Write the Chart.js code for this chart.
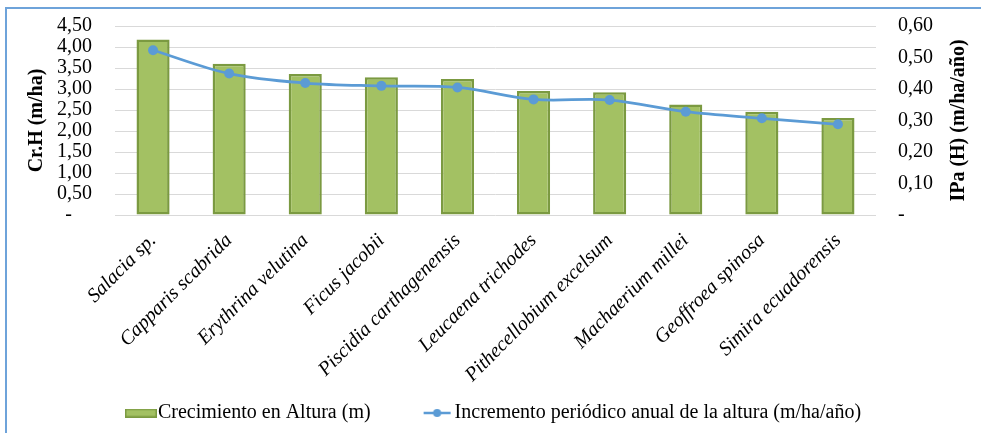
<!DOCTYPE html>
<html>
<head>
<meta charset="utf-8">
<script src="https://cdn.jsdelivr.net/npm/chart.js@4.4.1/dist/chart.umd.min.js"></script>
<style>
  html, body { margin: 0; padding: 0; background: #ffffff; overflow: hidden; }
  #wrap { position: relative; width: 981px; height: 433px; overflow: hidden; }
  #frame { position: absolute; left: 5px; top: 7px; width: 1200px; height: 800px;
           border: 2px solid #6ea3da; pointer-events: none; box-sizing: border-box; }
</style>
</head>
<body>
<div id="wrap">
  <canvas id="chart" width="981" height="433"></canvas>
  <div id="frame"></div>
</div>
<script>
// Species (x categories)
const species = [
  'Salacia sp.', 'Capparis scabrida', 'Erythrina velutina', 'Ficus jacobii',
  'Piscidia carthagenensis', 'Leucaena trichodes', 'Pithecellobium excelsum',
  'Machaerium millei', 'Geoffroea spinosa', 'Simira ecuadorensis'
];
// Height growth (m), left axis
const heightGrowth = [4.18, 3.60, 3.36, 3.28, 3.24, 2.95, 2.92, 2.63, 2.46, 2.31];
// Periodic annual increment of height (m/ha/año), right axis
const annualIncrement = [0.523, 0.449, 0.419, 0.410, 0.405, 0.367, 0.365, 0.328, 0.307, 0.288];

const seriesNames = ['Crecimiento en Altura (m)', 'Incremento periódico anual de la altura (m/ha/año)'];
const leftTitle = 'Cr.H (m/ha)';
const rightTitle = 'IPa (H) (m/ha/año)';
const leftMax = 4.5, leftStep = 0.5;
const rightMax = 0.6, rightStep = 0.1;

const FONT = 'Liberation Serif';
const BAR_FILL = '#a3c163';
const BAR_EDGE = '#7b9a41';
const LINE_BLUE = '#5b9bd5';

function fmt(v) {
  return v.toFixed(2).replace('.', ',');
}

// Legend swatches
function barSwatch() {
  const c = document.createElement('canvas');
  c.width = 32; c.height = 9;
  const g = c.getContext('2d');
  g.fillStyle = BAR_FILL;
  g.fillRect(0, 0, 32, 9);
  g.strokeStyle = BAR_EDGE;
  g.lineWidth = 1.5;
  g.strokeRect(0.75, 0.75, 30.5, 7.5);
  return c;
}
function lineSwatch() {
  const c = document.createElement('canvas');
  c.width = 32; c.height = 10;
  const g = c.getContext('2d');
  g.strokeStyle = LINE_BLUE;
  g.lineWidth = 2.5;
  g.beginPath(); g.moveTo(2, 5); g.lineTo(29, 5); g.stroke();
  g.fillStyle = LINE_BLUE;
  g.beginPath(); g.arc(15.5, 5, 4, 0, Math.PI * 2); g.fill();
  return c;
}

// Right axis title reads bottom-to-top
const rightTitlePlugin = {
  id: 'rightTitle',
  afterDraw(chart) {
    const s = chart.scales.y1;
    const ctx = chart.ctx;
    ctx.save();
    ctx.translate(s.right - 12 - 10, (chart.chartArea.top + chart.chartArea.bottom) / 2);
    ctx.rotate(-Math.PI / 2);
    ctx.textAlign = 'center';
    ctx.textBaseline = 'middle';
    ctx.fillStyle = '#000';
    ctx.font = 'bold 20px "' + FONT + '"';
    ctx.fillText(rightTitle, 0, 0);
    ctx.restore();
  }
};

new Chart(document.getElementById('chart'), {
  data: {
    labels: species,
    datasets: [
      {
        type: 'bar',
        label: seriesNames[0],
        data: heightGrowth,
        yAxisID: 'y',
        backgroundColor: BAR_FILL,
        borderColor: BAR_EDGE,
        borderWidth: 2.5,
        borderSkipped: false,
        categoryPercentage: 1,
        barPercentage: 0.435,
        order: 2
      },
      {
        type: 'line',
        label: seriesNames[1],
        data: annualIncrement,
        yAxisID: 'y1',
        borderColor: LINE_BLUE,
        backgroundColor: LINE_BLUE,
        borderWidth: 2.75,
        tension: 0.35,
        pointRadius: 5,
        pointBackgroundColor: LINE_BLUE,
        pointBorderColor: LINE_BLUE,
        pointBorderWidth: 0,
        fill: false,
        order: 1
      }
    ]
  },
  options: {
    responsive: false,
    animation: false,
    devicePixelRatio: 1,
    layout: { padding: { left: 14, right: 0, top: 26, bottom: 0 } },
    plugins: {
      tooltip: { enabled: false },
      legend: {
        position: 'bottom',
        labels: {
          usePointStyle: true,
          pointStyleWidth: 14,
          padding: 10,
          color: '#000',
          font: { family: FONT, size: 20 },
          generateLabels() {
            return [
              { text: seriesNames[0] + '          ', pointStyle: barSwatch(), datasetIndex: 0,
                fillStyle: BAR_FILL, strokeStyle: BAR_EDGE, lineWidth: 0, hidden: false, fontColor: '#000' },
              { text: seriesNames[1], pointStyle: lineSwatch(), datasetIndex: 1,
                fillStyle: LINE_BLUE, strokeStyle: LINE_BLUE, lineWidth: 0, hidden: false, fontColor: '#000' }
            ];
          }
        }
      }
    },
    scales: {
      x: {
        offset: true,
        grid: { display: false },
        border: { display: false },
        afterFit(scale) { scale.height = 178; },
        ticks: {
          autoSkip: false,
          minRotation: 45,
          maxRotation: 45,
          padding: 6,
          color: '#000',
          font: { family: FONT, size: 20, style: 'italic' }
        }
      },
      y: {
        position: 'left',
        min: 0,
        max: leftMax,
        border: { display: false },
        grid: { color: '#d9d9d9', lineWidth: 1, drawTicks: true, tickLength: 23, tickColor: 'rgba(0,0,0,0)' },
        ticks: {
          stepSize: leftStep,
          autoSkip: false,
          padding: 0,
          color: '#000',
          font: { family: FONT, size: 20 },
          callback: v => (v === 0 ? '-    ' : fmt(v))
        },
        title: {
          display: true,
          text: leftTitle,
          color: '#000',
          font: { family: FONT, size: 20, weight: 'bold' },
          padding: { top: 11, bottom: 8 }
        }
      },
      y1: {
        position: 'right',
        min: 0,
        max: rightMax,
        border: { display: false },
        grid: { display: true, drawOnChartArea: false, drawTicks: true, tickLength: 22, tickColor: 'rgba(0,0,0,0)' },
        ticks: {
          stepSize: rightStep,
          autoSkip: false,
          padding: 0,
          color: '#000',
          font: { family: FONT, size: 20 },
          callback: v => (v === 0 ? '-' : fmt(v))
        },
        title: {
          display: true,
          text: rightTitle,
          color: 'rgba(0,0,0,0)',
          font: { family: FONT, size: 20, weight: 'bold' },
          padding: { top: 10, bottom: 14 }
        }
      }
    }
  },
  plugins: [rightTitlePlugin]
});
</script>
</body>
</html>
